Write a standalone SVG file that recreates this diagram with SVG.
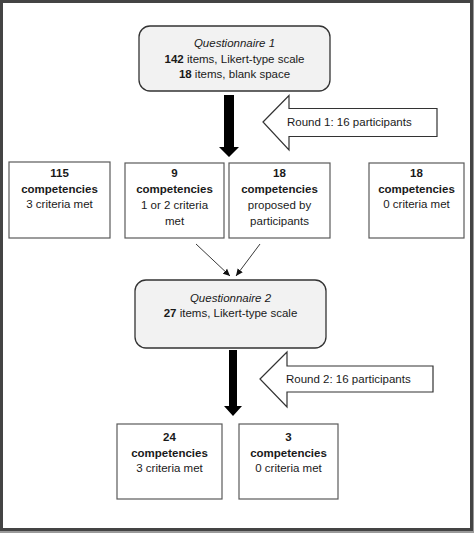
<svg xmlns="http://www.w3.org/2000/svg" width="474" height="533" viewBox="0 0 474 533">
<defs>
<style>
text{font-family:"Liberation Sans",Arial,sans-serif;font-size:11.5px;fill:#1a1a1a;text-anchor:middle}
.b{font-weight:bold}
.i{font-style:italic}
.l{text-anchor:start}
.q{fill:#f2f2f2;stroke:#333;stroke-width:1.3}
.box{fill:#fff;stroke:#5a5a5a;stroke-width:1.2}
.hollow{fill:#fff;stroke:#333;stroke-width:1.2}
.thin{stroke:#222;stroke-width:0.9;fill:none}
</style>
<marker id="ah" markerWidth="8" markerHeight="8" refX="7" refY="4" orient="auto" markerUnits="userSpaceOnUse">
<path d="M0,0.8 L7,4 L0,7.2 Z" fill="#111"/>
</marker>
</defs>
<rect x="0" y="0" width="474" height="533" fill="#9a9a9a"/>
<rect x="1.5" y="1.5" width="470" height="528" fill="#fff" stroke="#444" stroke-width="3"/>

<g id="q1">
<rect class="q" x="139" y="26" width="191" height="65" rx="11"/>
<text class="i" x="234.5" y="47">Questionnaire 1</text>
<text x="234.5" y="63"><tspan class="b">142</tspan> items, Likert-type scale</text>
<text x="234.5" y="78"><tspan class="b">18</tspan> items, blank space</text>
</g>

<g id="round1">
<path class="hollow" d="M263,122 L289,95.5 L289,108.5 L437,108.5 L437,136.5 L289,136.5 L289,150 Z"/>
<text class="l" x="287" y="126">Round 1: 16 participants</text>
</g>

<g id="c115">
<rect class="box" x="9" y="162" width="101" height="76"/>
<text class="b" x="59.5" y="177">115</text>
<text class="b" x="59.5" y="193">competencies</text>
<text x="59.5" y="208">3 criteria met</text>
</g>

<g id="c9">
<rect class="box" x="125" y="163" width="99" height="75"/>
<text class="b" x="174.5" y="177">9</text>
<text class="b" x="174.5" y="193">competencies</text>
<text x="174.5" y="209">1 or 2 criteria</text>
<text x="174.5" y="225">met</text>
</g>

<g id="c18p">
<rect class="box" x="229" y="163" width="101" height="75"/>
<text class="b" x="279.5" y="177">18</text>
<text class="b" x="279.5" y="193">competencies</text>
<text x="279.5" y="209">proposed by</text>
<text x="279.5" y="225">participants</text>
</g>

<g id="c18">
<rect class="box" x="369" y="163" width="95" height="75"/>
<text class="b" x="416.5" y="177">18</text>
<text class="b" x="416.5" y="193">competencies</text>
<text x="416.5" y="208">0 criteria met</text>
</g>

<g id="q2">
<rect class="q" x="135" y="280" width="191" height="68" rx="11"/>
<text class="i" x="230.5" y="302">Questionnaire 2</text>
<text x="230.5" y="317"><tspan class="b">27</tspan> items, Likert-type scale</text>
</g>

<g id="round2">
<path class="hollow" d="M260,379 L287,352 L287,366 L433,366 L433,392 L287,392 L287,407 Z"/>
<text class="l" x="286" y="383">Round 2: 16 participants</text>
</g>

<g id="c24">
<rect class="box" x="117" y="424" width="105" height="75"/>
<text class="b" x="169.5" y="441">24</text>
<text class="b" x="169.5" y="457">competencies</text>
<text x="169.5" y="472">3 criteria met</text>
</g>

<g id="c3">
<rect class="box" x="239" y="424" width="99" height="75"/>
<text class="b" x="288.5" y="441">3</text>
<text class="b" x="288.5" y="457">competencies</text>
<text x="288.5" y="472">0 criteria met</text>
</g>

<g id="connectors">
<path d="M224,95 L234,95 L234,147 L239,147 L229,157 L219,147 L224,147 Z" fill="#000"/>
<path d="M229,350 L237,350 L237,406 L242,406 L233,416 L224,406 L229,406 Z" fill="#000"/>
<line class="thin" x1="196" y1="244" x2="230" y2="276" marker-end="url(#ah)"/>
<line class="thin" x1="260" y1="244" x2="236" y2="276" marker-end="url(#ah)"/>
</g>
</svg>
